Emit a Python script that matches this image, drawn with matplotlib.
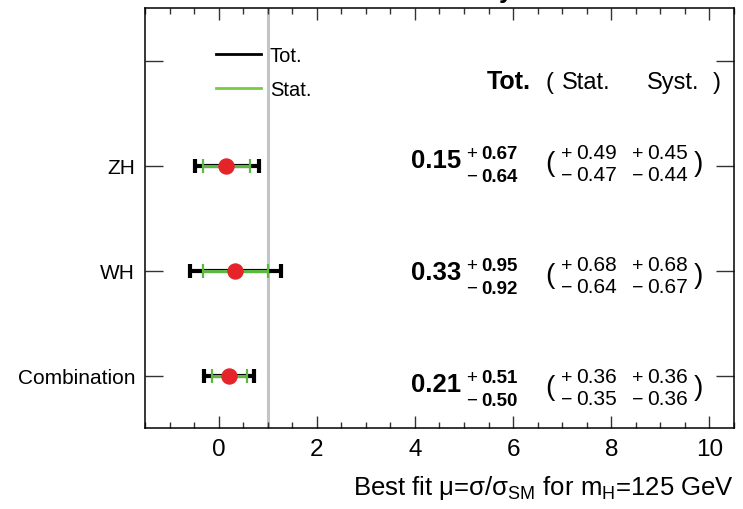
import matplotlib
matplotlib.use("Agg")
import matplotlib.pyplot as plt
from matplotlib import transforms
from matplotlib.ticker import MultipleLocator

plt.rcParams['font.family'] = ['Liberation Sans', 'DejaVu Sans']
plt.rcParams['mathtext.fontset'] = 'custom'
plt.rcParams['mathtext.rm'] = 'Liberation Sans'
plt.rcParams['mathtext.it'] = 'Liberation Sans:italic'
plt.rcParams['mathtext.bf'] = 'Liberation Sans:bold'

# ---- data ----
channels = ['Combination', 'WH', 'ZH']
mu = [0.21, 0.33, 0.15]
tot_up = [0.51, 0.95, 0.67]
tot_dn = [0.50, 0.92, 0.64]
stat_up = [0.36, 0.68, 0.49]
stat_dn = [0.35, 0.64, 0.47]
syst_up = [0.36, 0.68, 0.45]
syst_dn = [0.36, 0.67, 0.44]
xticks = [0, 2, 4, 6, 8, 10]

W, H = 743, 510
fig = plt.figure(figsize=(W / 100, H / 100), dpi=100)
L, R, T, B = 145, 734, 9, 429
ax = fig.add_axes([L / W, (H - B) / H, (R - L) / W, (B - T) / H])
ax.set_xlim(-1.5, 10.5)
ax.set_ylim(-0.5, 3.5)

ypos = list(range(len(channels)))

red = '#e5242a'
green = '#5cb840'

ax.axvline(1, color='#c4c4c4', lw=2.2, zorder=1)

ax.errorbar(mu, ypos, xerr=[tot_dn, tot_up], fmt='none', ecolor='black',
            elinewidth=3.0, capsize=5.0, capthick=3.0, zorder=3)
ax.errorbar(mu, ypos, xerr=[stat_dn, stat_up], fmt='none', ecolor=green,
            elinewidth=2.2, capsize=4.8, capthick=1.6, zorder=4)
ax.plot(mu, ypos, 'o', color=red, ms=10.8, mec=red, zorder=5)

# axes styling
for s in ax.spines.values():
    s.set_linewidth(1.1)
ax.set_xticks(xticks)
ax.set_xticklabels([str(v) for v in xticks])
ax.xaxis.set_minor_locator(MultipleLocator(0.5))
ax.set_yticks(ypos + [3])
ax.set_yticklabels(channels + [''])
ax.tick_params(axis='x', which='major', direction='in', length=8.5, width=1,
               top=True, bottom=True, labelsize=17.5, pad=7, color='#333333')
ax.tick_params(axis='x', which='minor', direction='in', length=4.3, width=1,
               top=True, bottom=True, color='#333333')
ax.tick_params(axis='y', which='major', direction='in', length=13, width=1,
               left=True, right=True, labelsize=15, pad=7, color='#333333')
ax.tick_params(axis='y', which='minor', left=False, right=False)

ax.set_xlabel(r'Best fit μ=σ/σ$_{\mathrm{SM}}$ for m$_{\mathrm{H}}$=125 GeV', fontsize=18.5)
ax.xaxis.label.set_horizontalalignment('right')
ax.xaxis.label.set_verticalalignment('baseline')
ax.xaxis.set_label_coords(1.0, -(495 - B) / (B - T))

# helpers for pixel placement
trans = transforms.blended_transform_factory(ax.transAxes, ax.transAxes)


def put(xpx, ypx, s, **kw):
    ax.text((xpx - L) / (R - L), (B - ypx) / (B - T), s, transform=trans,
            va='baseline', ha='left', clip_on=False, **kw)


# legend
ax.plot([-0.05, 0.86], [3.5 - (55 - T) / 105] * 2, color='black', lw=2.0)
ax.plot([-0.05, 0.86], [3.5 - (89 - T) / 105] * 2, color='#77cc44', lw=2.0)
put(270, 62, 'Tot.', fontsize=14.5)
put(270, 96, 'Stat.', fontsize=14.5)

# header
put(487, 89, 'Tot.', fontsize=18, fontweight='bold')
put(546, 89, '(', fontsize=17)
put(562, 89, 'Stat.', fontsize=17)
put(647, 89, 'Syst.', fontsize=17)
put(713, 89, ')', fontsize=17)

# numbers per row (text baselines in pixels)
row_base = {2: 168, 1: 280, 0: 392}
for i in range(len(channels)):
    yb = row_base[i]
    put(411, yb, f'{mu[i]:.2f}', fontsize=18.5, fontweight='bold')
    put(466, yb - 9, '+', fontsize=13.5)
    put(481, yb - 9, f'{tot_up[i]:.2f}', fontsize=13.5, fontweight='bold')
    put(466, yb + 14, '\u2212', fontsize=13.5)
    put(481, yb + 14, f'{tot_dn[i]:.2f}', fontsize=13.5, fontweight='bold')
    put(545, yb + 3, '(', fontsize=20)
    put(561, yb - 9, '+', fontsize=14)
    put(576, yb - 9, f'{stat_up[i]:.2f}', fontsize=15)
    put(561, yb + 13, '\u2212', fontsize=14)
    put(576, yb + 13, f'{stat_dn[i]:.2f}', fontsize=15)
    put(632, yb - 9, '+', fontsize=14)
    put(647, yb - 9, f'{syst_up[i]:.2f}', fontsize=15)
    put(632, yb + 13, '\u2212', fontsize=14)
    put(647, yb + 13, f'{syst_dn[i]:.2f}', fontsize=15)
    put(694, yb + 3, ')', fontsize=20)

# clipped title at very top (only a descender is visible in the reference)
fig.text(513 / W, 1 + 2 / H, 'Preliminary', ha='right', va='baseline',
         fontsize=18, fontweight='bold')

fig.savefig('out.png', dpi=100)
